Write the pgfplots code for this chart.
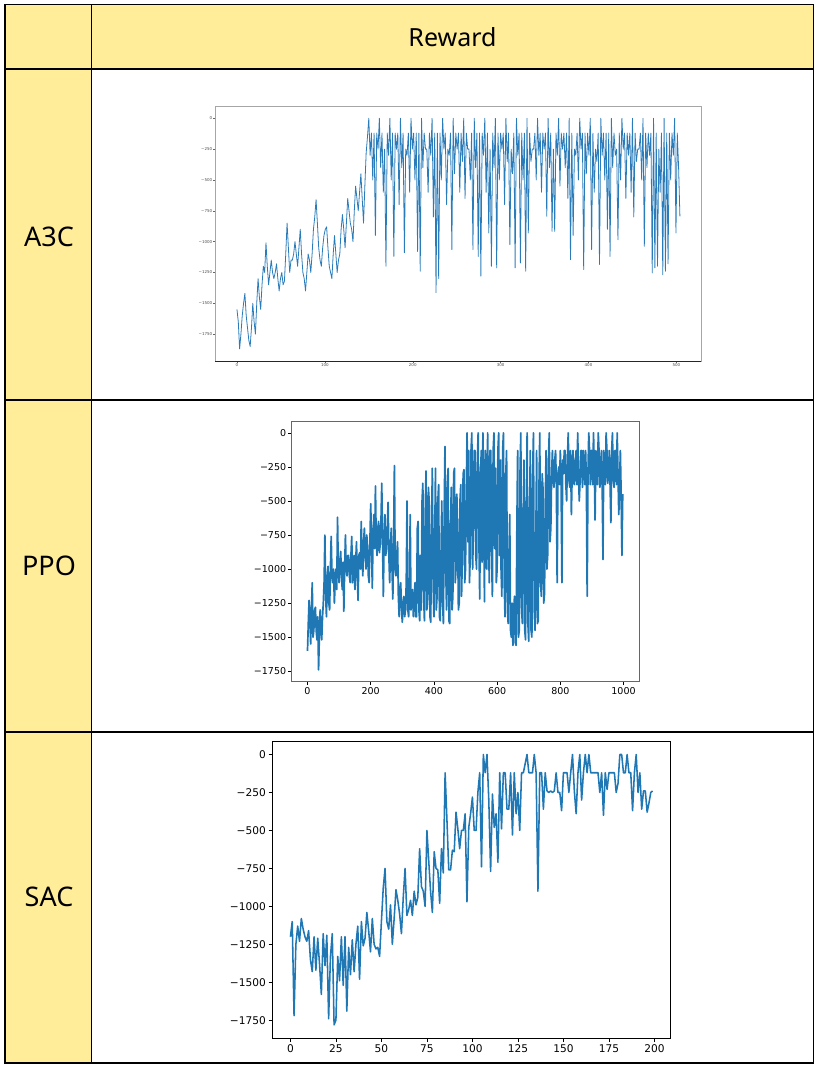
\documentclass[border=0pt]{standalone}
\usepackage{fontspec}
\setmainfont{Noto Sans}
\newfontfamily\mpl{DejaVu Sans}
\usepackage{pgfplots}
\pgfplotsset{compat=1.18}
\definecolor{hdr}{HTML}{FFED99}
\definecolor{mplblue}{HTML}{1F77B4}
\definecolor{a3cblue}{HTML}{2A7BBA}

\begin{document}
\begin{tikzpicture}[x=1pt,y=1pt]
\useasboundingbox (0,0) rectangle (820,-1067);
\fill[hdr] (5,-4.3) rectangle (813.7,-69);
\fill[hdr] (5,-69) rectangle (91.3,-1063);
\draw[line width=1.2pt] (5,-4.3) rectangle (813.7,-1063);
\draw[line width=1.2pt] (5,-69) -- (813.7,-69);
\draw[line width=1.2pt] (5,-400) -- (813.7,-400);
\draw[line width=1.2pt] (5,-732) -- (813.7,-732);
\draw[line width=1.2pt] (91.3,-4.3) -- (91.3,-1063);
\node[font=\fontsize{25}{28}\selectfont] at (452.5,-37) {Reward};
\node[font=\fontsize{27}{30}\selectfont] at (49,-237) {A3C};
\node[font=\fontsize{27}{30}\selectfont] at (49,-566) {PPO};
\node[font=\fontsize{27}{30}\selectfont] at (49,-897) {SAC};

% ---------------- A3C ----------------
\begin{axis}[at={(215pt,-106.7pt)}, anchor=north west, scale only axis,
  width=486pt, height=254.3pt,
  xmin=-25, xmax=528, ymin=-1968, ymax=94,
  axis line style={black!35, line width=0.6pt},
  tick pos=left, tick align=outside, major tick length=1.6pt,
  tick style={black!60, line width=0.4pt},
  xtick={0,100,200,300,400,500},
  ytick={-1750,-1500,-1250,-1000,-750,-500,-250,0},
  yticklabels={{−1750},{−1500},{−1250},{−1000},{−750},{−500},{−250},{0}},
  ticklabel style={font=\mpl\fontsize{4}{4}\selectfont, text=black!70},
  /pgf/number format/assume math mode=true,
  /pgf/number format/1000 sep={},
  xticklabel style={inner sep=1pt}, yticklabel style={inner sep=1pt},
  clip=false]
\addplot[a3cblue, line width=0.8pt, line join=round] coordinates {
(0,-1550)(1.5,-1650)(3,-1870)(4.5,-1750)(6,-1600)(7.5,-1500)(9,-1420)(10.5,-1600)(12,-1700)(13.5,-1800)
(15,-1850)(16.5,-1700)(18,-1500)(19.5,-1650)(21,-1750)(22.5,-1500)(24,-1300)(25.5,-1450)(27,-1550)(28.5,-1350)
(30,-1200)(31.5,-1250)(33,-1010)(34.5,-1200)(36,-1350)(37.5,-1250)(39,-1150)(40.5,-1250)(42,-1300)(43.5,-1250)
(45,-1180)(46.5,-1300)(48,-1400)(49.5,-1300)(51,-1250)(52.5,-1350)(54,-1320)(55.5,-1100)(57,-850)(58.5,-1050)
(60,-1250)(61.5,-1150)(63,-1150)(64.5,-1100)(66,-1000)(67.5,-1100)(69,-1200)(70.5,-1050)(72,-900)(73.5,-1100)
(75,-1250)(76.5,-1300)(78,-1400)(79.5,-1250)(81,-1100)(82.5,-1150)(84,-1250)(85.5,-1100)(87,-900)(88.5,-800)
(90,-660)(91.5,-850)(93,-1050)(94.5,-1150)(96,-1200)(97.5,-1050)(99,-950)(100.5,-900)(102,-880)(103.5,-1050)
(105,-1200)(106.5,-1250)(108,-1300)(109.5,-1100)(111,-950)(112.5,-1100)(114,-1250)(115.5,-1150)(117,-1100)(118.5,-900)
(120,-780)(121.5,-900)(123,-1050)(124.5,-850)(126,-650)(127.5,-750)(129,-850)(130.5,-900)(132,-1000)(133.5,-750)
(135,-550)(136.5,-650)(138,-750)(139.5,-600)(141,-450)(142.5,-650)(144,-850)(145.5,-550)(147,-280)(148.5,-150)
(150,0)(151.5,-300)(153,-120)(154.5,-500)(156,-120)(157.5,-950)(159,-120)(160.5,-250)(162,0)(163.5,-400)
(165,-120)(166.5,-600)(168,-250)(169.5,-1200)(171,-120)(172.5,-300)(174,0)(175.5,-500)(177,-120)(178.5,-1120)
(180,-120)(181.5,-250)(183,-120)(184.5,-700)(186,0)(187.5,-400)(189,-120)(190.5,-1090)(192,-250)(193.5,-300)
(195,-120)(196.5,-600)(198,0)(199.5,-250)(201,-120)(202.5,-500)(204,-120)(205.5,-1080)(207,-120)(208.5,-1240)
(210,0)(211.5,-400)(213,-120)(214.5,-250)(216,-250)(217.5,-600)(219,-120)(220.5,-300)(222,0)(223.5,-800)
(225,-120)(226.5,-1415)(228,-120)(229.5,-1300)(231,-120)(232.5,-500)(234,0)(235.5,-250)(237,-120)(238.5,-700)
(240,-250)(241.5,-300)(243,-120)(244.5,-1065)(246,0)(247.5,-450)(249,-120)(250.5,-250)(252,-120)(253.5,-600)
(255,-120)(256.5,-350)(258,0)(259.5,-650)(261,-120)(262.5,-250)(264,-250)(265.5,-500)(267,-120)(268.5,-1065)
(270,0)(271.5,-400)(273,-120)(274.5,-1120)(276,-120)(277.5,-1280)(279,-120)(280.5,-300)(282,0)(283.5,-600)
(285,-120)(286.5,-930)(288,-250)(289.5,-1200)(291,-120)(292.5,-400)(294,0)(295.5,-1213)(297,-120)(298.5,-500)
(300,-120)(301.5,-250)(303,-120)(304.5,-700)(306,0)(307.5,-350)(309,-120)(310.5,-1025)(312,-250)(313.5,-450)
(315,-120)(316.5,-1213)(318,0)(319.5,-300)(321,-120)(322.5,-1173)(324,-120)(325.5,-500)(327,-120)(328.5,-1240)
(330,0)(331.5,-930)(333,-120)(334.5,-350)(336,-250)(337.5,-250)(339,-120)(340.5,-500)(342,0)(343.5,-300)
(345,-120)(346.5,-600)(348,-120)(349.5,-250)(351,-120)(352.5,-795)(354,0)(355.5,-400)(357,-120)(358.5,-917)
(360,-250)(361.5,-917)(363,-120)(364.5,-300)(366,0)(367.5,-550)(369,-120)(370.5,-250)(372,-120)(373.5,-400)
(375,-120)(376.5,-650)(378,0)(379.5,-1146)(381,-120)(382.5,-950)(384,-250)(385.5,-300)(387,-120)(388.5,-500)
(390,0)(391.5,-250)(393,-120)(394.5,-1227)(396,-120)(397.5,-450)(399,-120)(400.5,-300)(402,0)(403.5,-1065)
(405,-120)(406.5,-600)(408,-250)(409.5,-350)(411,-120)(412.5,-1186)(414,0)(415.5,-300)(417,-120)(418.5,-500)
(420,-120)(421.5,-900)(423,-120)(424.5,-1120)(426,0)(427.5,-400)(429,-120)(430.5,-300)(432,-250)(433.5,-985)
(435,-120)(436.5,-500)(438,0)(439.5,-250)(441,-120)(442.5,-650)(444,-120)(445.5,-300)(447,-120)(448.5,-600)
(450,0)(451.5,-800)(453,-120)(454.5,-350)(456,-250)(457.5,-250)(459,-120)(460.5,-500)(462,0)(463.5,-1038)
(465,-120)(466.5,-400)(468,-120)(469.5,-300)(471,-120)(472.5,-1254)(474,0)(475.5,-1213)(477,-120)(478.5,-1200)
(480,-250)(481.5,-600)(483,-120)(484.5,-1268)(486,0)(487.5,-1240)(489,-120)(490.5,-1180)(492,-120)(493.5,-500)
(495,-120)(496.5,-300)(498,0)(499.5,-930)(501,-120)(502.5,-400)(504,-795)
};
\draw[black!85, line width=0.8pt] (rel axis cs:0,0) -- (rel axis cs:1,0);
\end{axis}

% ---------------- PPO ----------------
\begin{axis}[at={(291.7pt,-421pt)}, anchor=north west, scale only axis,
  width=347.3pt, height=260.7pt,
  xmin=-50, xmax=1049, ymin=-1827, ymax=87,
  axis line style={black!60, line width=0.8pt},
  tick pos=left, tick align=outside, major tick length=3.4pt,
  tick style={black, line width=0.6pt},
  xtick={0,200,400,600,800,1000},
  ytick={-1750,-1500,-1250,-1000,-750,-500,-250,0},
  yticklabels={{−1750},{−1500},{−1250},{−1000},{−750},{−500},{−250},{0}},
  ticklabel style={font=\mpl\fontsize{9.5}{10}\selectfont},
  /pgf/number format/assume math mode=true,
  /pgf/number format/1000 sep={},
  xticklabel style={inner sep=2pt}, yticklabel style={inner sep=2pt}]
\addplot[mplblue, line width=1.7pt, line join=round] coordinates {
(0,-1600)(2.5,-1400)(5,-1230)(7.5,-1350)(10,-1550)(12.5,-1300)(15,-1100)(17.5,-1500)(20,-1450)(22.5,-1300)
(25,-1280)(27.5,-1450)(30,-1520)(32.5,-1350)(35,-1740)(37.5,-1500)(40,-1300)(42.5,-1450)(45,-1520)(47.5,-1350)
(50,-1250)(52.5,-1100)(55,-750)(57.5,-1200)(60,-1350)(62.5,-1050)(65,-980)(67.5,-1250)(70,-1300)(72.5,-1000)
(75,-760)(77.5,-1050)(80,-1100)(82.5,-1000)(85,-1250)(87.5,-1100)(90,-1000)(92.5,-1150)(95,-620)(97.5,-1000)
(100,-1100)(102.5,-950)(105,-870)(107.5,-1050)(110,-1150)(112.5,-950)(115,-1310)(117.5,-1000)(120,-750)(122.5,-1000)
(125,-1050)(127.5,-900)(130,-900)(132.5,-1050)(135,-1100)(137.5,-900)(140,-760)(142.5,-1100)(145,-1000)(147.5,-900)
(150,-1150)(152.5,-950)(155,-800)(157.5,-1050)(160,-1230)(162.5,-900)(165,-880)(167.5,-1000)(170,-650)(172.5,-900)
(175,-1050)(177.5,-800)(180,-700)(182.5,-900)(185,-1000)(187.5,-750)(190,-830)(192.5,-1050)(195,-1100)(197.5,-800)
(200,-520)(202.5,-800)(205,-1140)(207.5,-750)(210,-600)(212.5,-850)(215,-390)(217.5,-800)(220,-900)(222.5,-700)
(225,-650)(227.5,-880)(230,-820)(232.5,-650)(235,-370)(237.5,-800)(240,-1200)(242.5,-750)(245,-600)(247.5,-900)
(250,-850)(252.5,-700)(255,-510)(257.5,-900)(260,-1100)(262.5,-850)(265,-700)(267.5,-1000)(270,-1220)(272.5,-800)
(275,-240)(277.5,-1000)(280,-1050)(282.5,-900)(285,-800)(287.5,-1200)(290,-1350)(292.5,-1150)(295,-1100)(297.5,-1300)
(300,-1390)(302.5,-1250)(305,-1200)(307.5,-1350)(310,-1300)(312.5,-1100)(315,-500)(317.5,-1300)(320,-1350)(322.5,-1200)
(325,-600)(327.5,-1300)(330,-1250)(332.5,-1150)(335,-1350)(337.5,-1250)
(340,-1100)(342.5,-1350)(345,-1350)(347.5,-700)(350,-650)(352.5,-1300)(355,-1380)(357.5,-900)(360,-1300)(362.5,-500)
(365,-370)(367.5,-1200)(370,-1380)(372.5,-600)(375,-280)(377.5,-1300)(380,-1250)(382.5,-400)(385,-500)(387.5,-1350)
(390,-1390)(392.5,-700)(395,-260)(397.5,-1100)(400,-1350)(402.5,-800)(405,-260)(407.5,-1300)(410,-1200)(412.5,-500)
(415,-380)(417.5,-1350)(420,-1380)(422.5,-900)(425,-500)(427.5,-1250)(430,-1400)(432.5,-600)(435,-100)(437.5,-1000)
(440,-1300)(442.5,-400)(445,-260)(447.5,-1380)(450,-1400)(452.5,-700)(455,-400)(457.5,-1300)(460,-1200)(462.5,-300)
(465,-260)(467.5,-1100)(470,-1000)(472.5,-450)(475,-700)(477.5,-1300)(480,-1250)(482.5,-500)(485,-380)(487.5,-1200)
(490,-900)(492.5,-300)(495,-270)(497.5,-1100)
(500,-1000)(502.5,-400)(505,0)(507.5,-800)(510,-130)(512.5,-1100)(515,-900)(517.5,-130)(520,0)(522.5,-1000)
(525,-700)(527.5,-130)(530,-130)(532.5,-900)(535,-1000)(537.5,-200)(540,0)(542.5,-800)(545,-1220)(547.5,-300)
(550,-130)(552.5,-950)(555,0)(557.5,-600)(560,-1240)(562.5,-130)(565,-250)(567.5,-1000)(570,0)(572.5,-500)
(575,-1100)(577.5,-130)(580,-130)(582.5,-900)(585,-1200)(587.5,-130)(590,0)(592.5,-850)(595,-260)(597.5,-1100)
(600,-1000)(602.5,-130)(605,0)(607.5,-900)(610,-200)(612.5,-1000)(615,-1200)(617.5,-130)(620,0)(622.5,-1100)
(625,-1350)(627.5,-300)(630,-130)(632.5,-1300)(635,-1400)(637.5,-900)(640,-600)(642.5,-1450)(645,-1500)(647.5,-1250)
(650,-1560)(652.5,-1300)(655,-1200)(657.5,-1540)(660,-1560)(662.5,-700)(665,-130)(667.5,-1500)(670,-1450)(672.5,-300)
(675,0)(677.5,-1300)(680,-1400)(682.5,-600)(685,-200)(687.5,-1450)(690,-1520)(692.5,-500)(695,0)(697.5,-1400)
(700,-1530)(702.5,-600)(705,-130)(707.5,-1450)(710,-1500)(712.5,-300)(715,0)(717.5,-1300)(720,-1450)(722.5,-800)
(725,-130)(727.5,-1400)(730,-1380)(732.5,-400)(735,0)(737.5,-1100)(740,-1200)(742.5,-300)(745,-400)(747.5,-1250)
(750,-1180)(752.5,-500)(755,-130)(757.5,-1000)(760,-900)(762.5,-200)(765,0)(767.5,-800)(770,-700)(772.5,-300)
(775,-130)(777.5,-350)(780,-400)(782.5,-200)(785,-130)(787.5,-380)(790,-1100)(792.5,-300)(795,-250)(797.5,-380)
(800,-130)(802.5,-350)(805,-1100)(807.5,-200)(810,-300)(812.5,-130)(815,-130)(817.5,-380)(820,-500)(822.5,-200)
(825,0)(827.5,-350)(830,-400)(832.5,-130)(835,-600)(837.5,-300)(840,-130)(842.5,-370)(845,-380)(847.5,-200)
(850,-130)(852.5,-380)(855,0)(857.5,-300)(860,-500)(862.5,-350)(865,-130)(867.5,-130)(870,-400)(872.5,-130)
(875,-260)(877.5,-380)(880,-130)(882.5,-350)(885,-1200)(887.5,-300)(890,0)(892.5,-130)(895,-380)(897.5,-130)
(900,-130)(902.5,-380)(905,0)(907.5,-250)(910,-640)(912.5,-130)(915,-250)(917.5,-380)(920,0)(922.5,-130)
(925,-400)(927.5,-350)(930,-130)(932.5,-380)(935,-930)(937.5,-130)(940,-300)(942.5,-380)(945,0)(947.5,-130)
(950,-370)(952.5,-300)(955,-130)(957.5,-380)(960,-660)(962.5,-130)(965,0)(967.5,-350)(970,-400)(972.5,-130)
(975,-130)(977.5,-380)(980,0)(982.5,-300)(985,-600)(987.5,-380)(990,-130)(992.5,-450)(995,-900)(997.5,-450)
};
\end{axis}

% ---------------- SAC ----------------
\begin{axis}[at={(272.3pt,-741pt)}, anchor=north west, scale only axis,
  width=398.4pt, height=297.3pt,
  xmin=-9.95, xmax=208.95, ymin=-1869, ymax=89,
  axis line style={black, line width=0.9pt},
  tick pos=left, tick align=outside, major tick length=3.8pt,
  tick style={black, line width=0.7pt},
  xtick={0,25,50,75,100,125,150,175,200},
  ytick={-1750,-1500,-1250,-1000,-750,-500,-250,0},
  yticklabels={{−1750},{−1500},{−1250},{−1000},{−750},{−500},{−250},{0}},
  ticklabel style={font=\mpl\fontsize{10.6}{11}\selectfont},
  /pgf/number format/assume math mode=true,
  /pgf/number format/1000 sep={},
  xticklabel style={inner sep=2.5pt}, yticklabel style={inner sep=2.5pt}]
\addplot[mplblue, line width=1.55pt, line join=round] coordinates {
(0,-1200)(1,-1100)(2,-1720)(3,-1250)(4,-1130)(5,-1230)(6,-1080)(7,-1150)(8,-1200)(9,-1230)
(10,-1160)(11,-1350)(12,-1430)(13,-1200)(14,-1420)(15,-1210)(16,-1380)(17,-1580)(18,-1180)(19,-1390)
(20,-1190)(21,-1740)(22,-1330)(23,-1180)(24,-1780)(25,-1750)(26,-1330)(27,-1490)(28,-1200)(29,-1520)
(30,-1200)(31,-1690)(32,-1270)(33,-1450)(34,-1220)(35,-1430)(36,-1250)(37,-1130)(38,-1480)(39,-1100)
(40,-1260)(41,-1210)(42,-1040)(43,-1160)(44,-1300)(45,-1080)(46,-1250)(47,-1280)(48,-1270)(49,-1330)
(50,-1100)(51,-880)(52,-750)(53,-1100)(54,-1150)(55,-990)(56,-1250)(57,-1080)(58,-890)(59,-960)
(60,-1050)(61,-1180)(62,-940)(63,-750)(64,-1060)(65,-1020)(66,-960)(67,-1060)(68,-900)(69,-990)
(70,-940)(71,-620)(72,-870)(73,-900)(74,-1000)(75,-500)(76,-700)(77,-900)(78,-1040)(79,-640)
(80,-750)(81,-760)(82,-980)(83,-620)(84,-780)(85,-120)(86,-430)(87,-760)(88,-760)(89,-630)
(90,-640)(91,-380)(92,-490)(93,-620)(94,-500)(95,-500)(96,-390)(97,-970)(98,-480)(99,-390)
(100,-280)(101,-500)(102,-500)(103,-250)(104,-120)(105,-740)(106,0)(107,-120)(108,0)(109,-300)
(110,-770)(111,-260)(112,-480)(113,-390)(114,-710)(115,-120)(116,-490)(117,-120)(118,-120)(119,-360)
(120,-360)(121,-120)(122,-530)(123,-120)(124,-390)(125,-250)(126,-500)(127,-120)(128,-120)(129,-60)
(130,0)(131,-120)(132,-120)(133,-120)(134,0)(135,-120)(136,-900)(137,-120)(138,-120)(139,-360)
(140,-120)(141,-240)(142,-250)(143,-240)(144,-250)(145,-240)(146,-120)(147,-250)(148,-250)(149,-370)
(150,-120)(151,-120)(152,-120)(153,-250)(154,-120)(155,0)(156,-240)(157,-390)(158,-120)(159,0)
(160,-300)(161,-120)(162,0)(163,-120)(164,0)(165,-120)(166,-120)(167,-120)(168,-120)(169,-120)
(170,-250)(171,-120)(172,-400)(173,-120)(174,-230)(175,-120)(176,-120)(177,-120)(178,-120)(179,-250)
(180,-190)(181,0)(182,0)(183,-120)(184,-120)(185,0)(186,-120)(187,-120)(188,-370)(189,-120)
(190,0)(191,-250)(192,-120)(193,-360)(194,-240)(195,-240)(196,-380)(197,-320)(198,-250)(199,-240)
};
\end{axis}
\end{tikzpicture}
\end{document}
